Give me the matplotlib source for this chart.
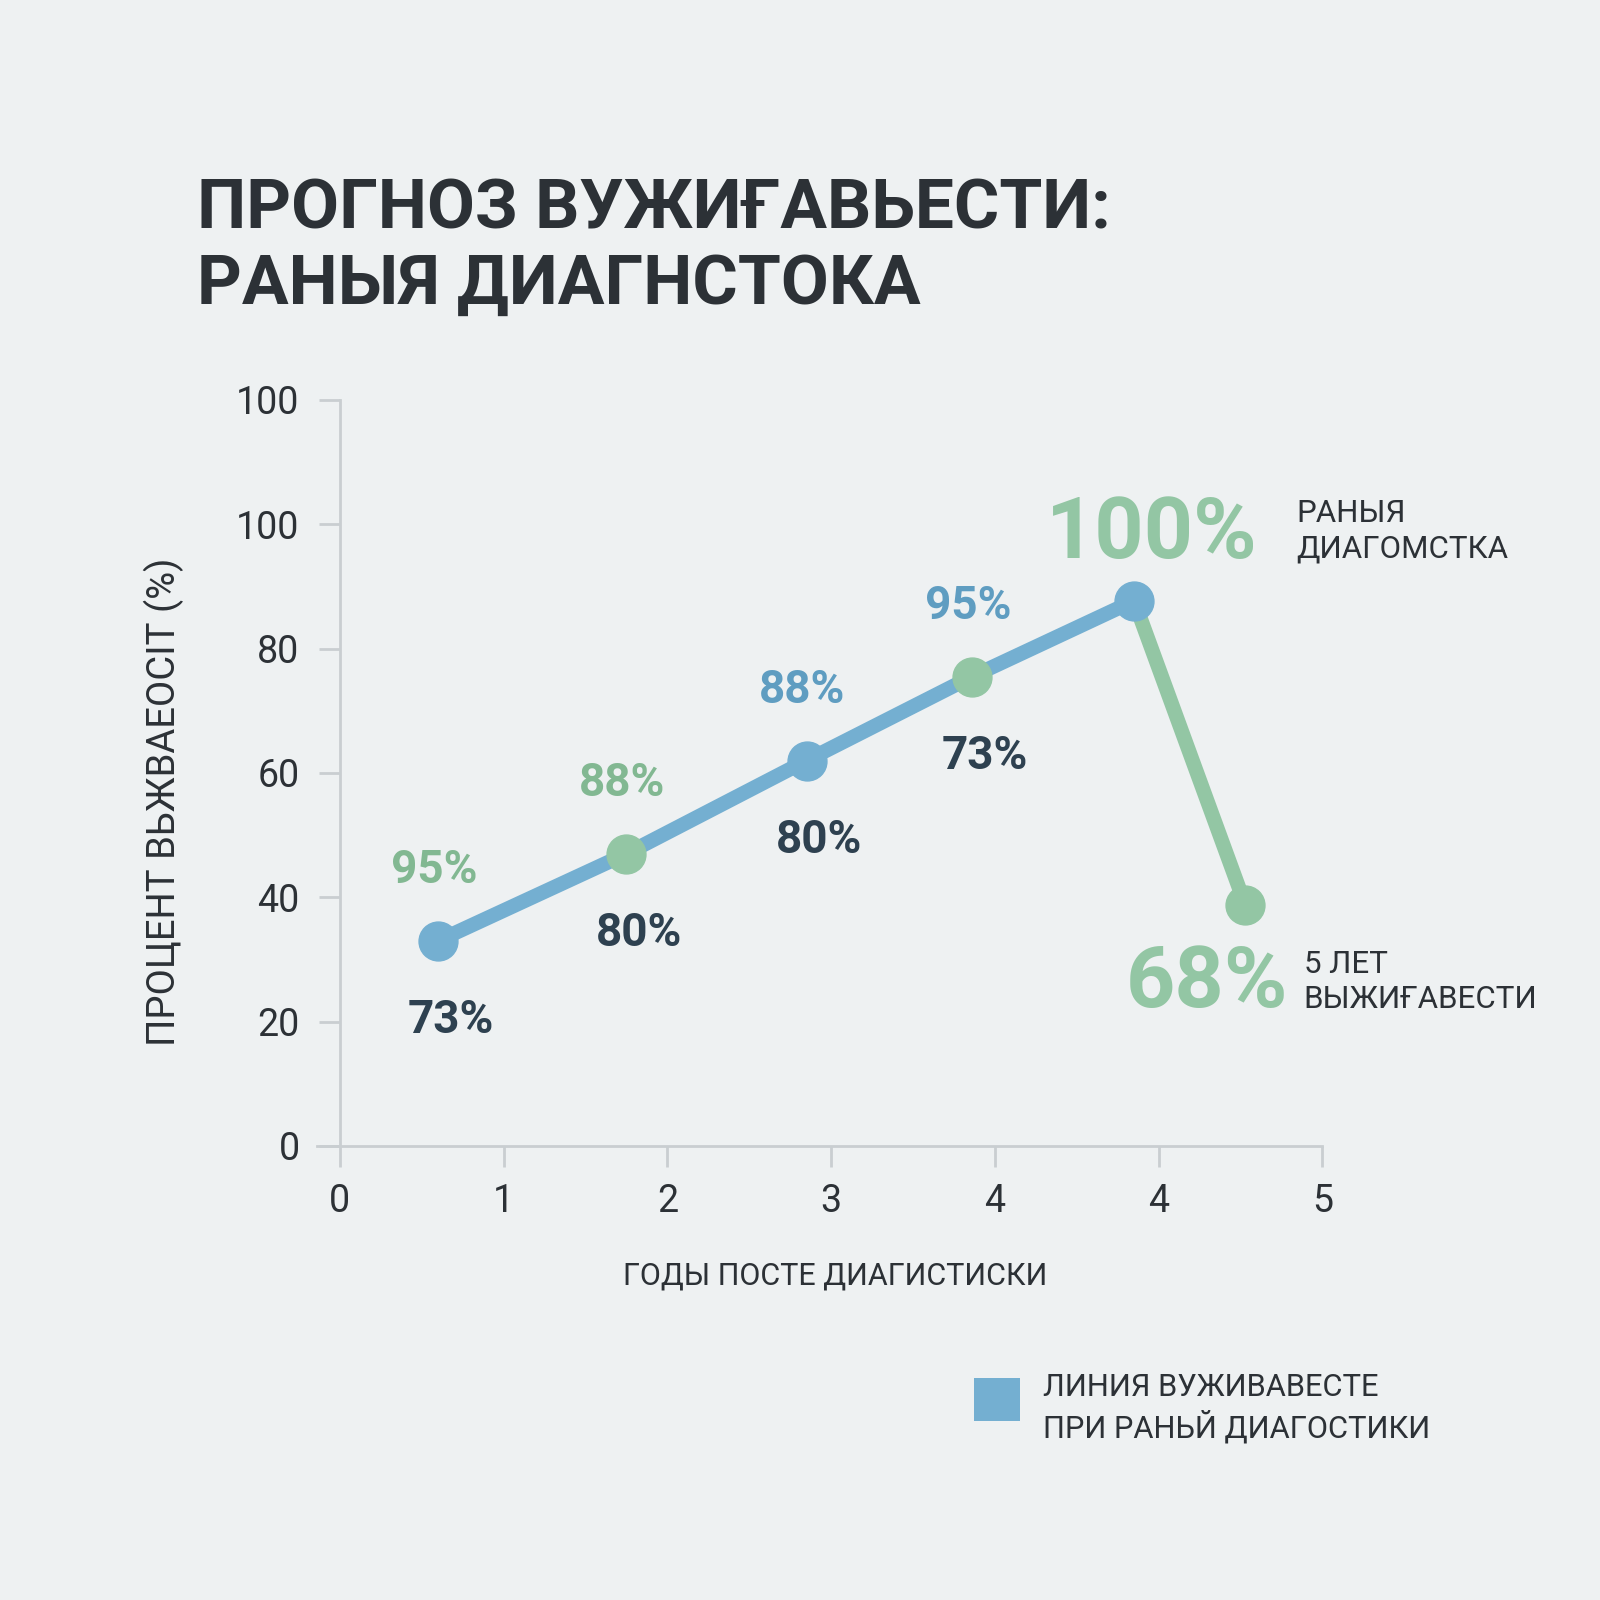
import matplotlib
matplotlib.use("Agg")
import matplotlib.pyplot as plt
from matplotlib.patches import Rectangle

plt.rcParams['font.family'] = ['Roboto', 'DejaVu Sans']

# data
years = [0.60, 1.75, 2.85, 3.86, 4.85, 5.53]
survival = [33, 47, 62, 75.5, 87.7, 38.7]
point_colors = ['blue', 'green', 'blue', 'green', 'blue', 'green']
upper_labels = ['95%', '88%', '88%', '95%']
upper_colors = ['green', 'green', 'blue', 'blue']
lower_labels = ['73%', '80%', '80%', '73%']
peak_label = '100%'
peak_note = 'РАНЫЯ\nДИАГОМСТКА'
end_label = '68%'
end_note = '5 ЛЕТ\nВЫЖИҒАВЕСТИ'

x_ticks = [0, 1, 2, 3, 4, 5, 6]
x_ticklabels = ['0', '1', '2', '3', '4', '4', '5']
y_ticks = [0, 20, 40, 60, 80, 100, 120]
y_ticklabels = ['0', '20', '40', '60', '80', '100', '100']

title = 'ПРОГНОЗ ВУЖИҒАВЬЕСТИ:\nРАНЫЯ ДИАГНСТОКА'
x_title = 'ГОДЫ ПОСТЕ ДИАГИСТИСКИ'
y_title = 'ПРОЦЕНТ ВЬЖВАЕОСІТ (%)'
legend_text = 'ЛИНИЯ ВУЖИВАВЕСТЕ\nПРИ РАНЬЙ ДИАГОСТИКИ'

# styles
BG = '#eef1f2'
BLUE = '#74afd1'
GREEN = '#93c6a4'
DARK = '#2e4150'
TITLE = '#2c3136'
AXIS = '#c9ced1'
colors = {'blue': BLUE, 'green': GREEN}
label_colors = {'blue': '#5f9dc1', 'green': '#82b892'}

fig = plt.figure(figsize=(16, 16), dpi=100, facecolor=BG)
ax = fig.add_axes([0.1981, 0.2838, 0.6284, 0.4662])
ax.set_facecolor(BG)
ax.set_xlim(-0.14, 6)
ax.set_ylim(0, 120)

# line: blue up to the peak, green for the drop
ax.plot(years[:5], survival[:5], color=BLUE, lw=10.5, solid_capstyle='round', zorder=2)
ax.plot(years[4:], survival[4:], color=GREEN, lw=10.5, solid_capstyle='round', zorder=2)
for x, y, c in zip(years, survival, point_colors):
    ax.plot(x, y, 'o', color=colors[c], markersize=28, zorder=3)

# labels around the points
for i in range(4):
    ax.annotate(upper_labels[i], (years[i], survival[i]), xytext=(-3, 51),
                textcoords='offset points', ha='center', va='center',
                fontsize=33, fontweight='bold', color=label_colors[upper_colors[i]])
    ax.annotate(lower_labels[i], (years[i], survival[i]), xytext=(9, -57),
                textcoords='offset points', ha='center', va='center',
                fontsize=33, fontweight='bold', color=DARK)

ax.annotate(peak_label, (years[4], survival[4]), xytext=(13, 48),
            textcoords='offset points', ha='center', va='center',
            fontsize=62, fontweight='bold', color=GREEN)
ax.annotate(peak_note, (years[4], survival[4]), xytext=(117, 50),
            textcoords='offset points', ha='left', va='center',
            fontsize=22.5, color=TITLE, linespacing=1.25)
ax.annotate(end_label, (years[5], survival[5]), xytext=(-28, -56),
            textcoords='offset points', ha='center', va='center',
            fontsize=62, fontweight='bold', color=GREEN)
ax.annotate(end_note, (years[5], survival[5]), xytext=(42, -55),
            textcoords='offset points', ha='left', va='center',
            fontsize=22.5, color=TITLE, linespacing=1.25)

# axes styling
for side in ['top', 'right']:
    ax.spines[side].set_visible(False)
ax.spines['left'].set_position(('data', 0))
ax.spines['left'].set_color(AXIS)
ax.spines['bottom'].set_color(AXIS)
ax.spines['left'].set_linewidth(2)
ax.spines['bottom'].set_linewidth(2)
ax.set_xticks(x_ticks)
ax.set_xticklabels(x_ticklabels)
ax.set_yticks(y_ticks)
ax.set_yticklabels(y_ticklabels)
ax.tick_params(axis='x', length=15, width=2, color=AXIS, pad=12, labelsize=27, labelcolor=TITLE)
ax.tick_params(axis='y', length=15, width=2, color=AXIS, pad=14, labelsize=27, labelcolor=TITLE)

fig.text(0.5217, 0.2022, x_title, ha='center', va='center', fontsize=22, color=TITLE)
fig.text(0.1027, 0.4987, y_title, ha='center', va='center', rotation=90, fontsize=27.5,
         color=TITLE)

fig.text(0.1231, 0.845, title, ha='left', va='center', fontsize=50, fontweight='bold',
         color=TITLE, linespacing=1.2)

# legend
fig.patches.append(Rectangle((0.609, 0.1116), 0.0287, 0.0274, transform=fig.transFigure,
                             facecolor=BLUE, edgecolor='none'))
fig.text(0.6518, 0.1199, legend_text, ha='left', va='center', fontsize=22.2, color=TITLE,
         linespacing=1.3)

fig.savefig('out.png', dpi=100, facecolor=BG)
